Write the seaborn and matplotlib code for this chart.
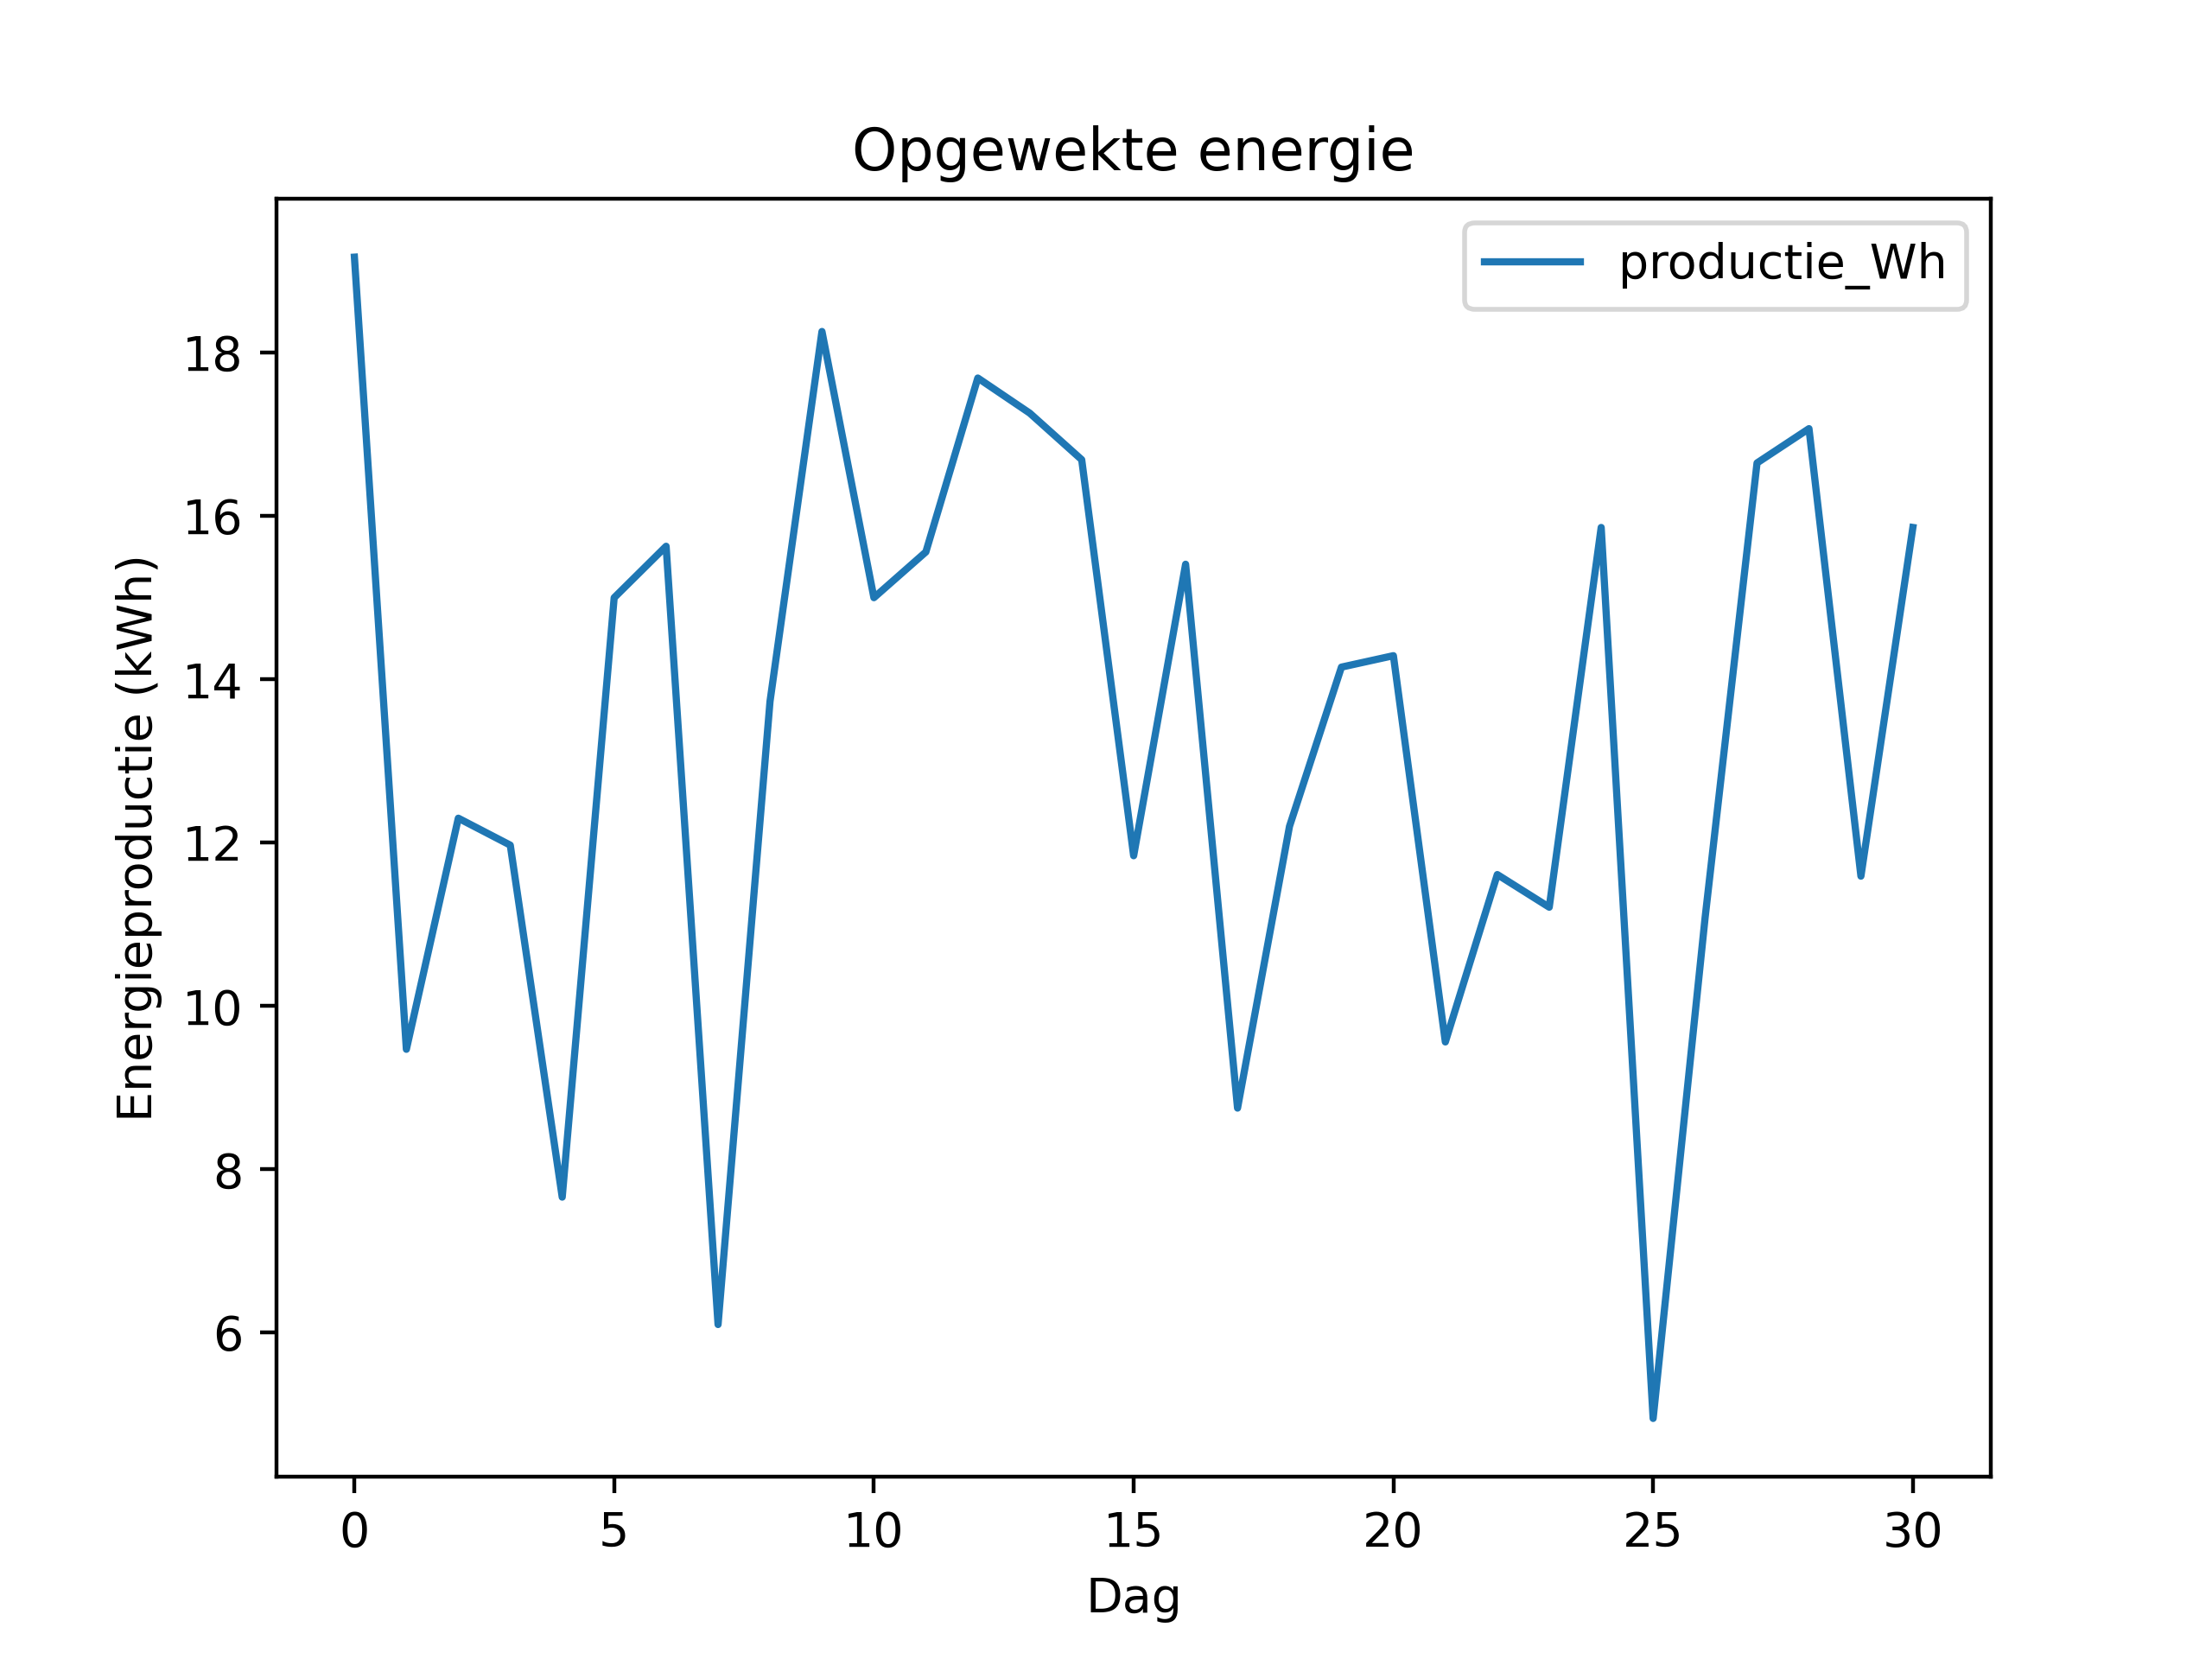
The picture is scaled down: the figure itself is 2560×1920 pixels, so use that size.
import pandas as pd
import matplotlib.pyplot as plt
import seaborn as sns

# Dagelijkse energieproductie (kWh)
dagen = list(range(31))
productie = [19.17, 9.47, 12.30, 11.97, 7.66, 15.00, 15.63, 6.10, 13.73, 18.26,
             15.00, 15.56, 17.69, 17.26, 16.69, 11.84, 15.41, 8.75, 12.20, 14.15,
             14.29, 9.56, 11.61, 11.21, 15.86, 4.95, 11.08, 16.65, 17.07, 11.59,
             15.86]

df = pd.DataFrame({'Dag': dagen, 'productie_Wh': productie})

fig, ax = plt.subplots(figsize=(6.4, 4.8), dpi=400)
sns.lineplot(data=df, x='Dag', y='productie_Wh', ax=ax, color='#1f77b4',
             label='productie_Wh')
ax.set_title('Opgewekte energie')
ax.set_xlabel('Dag')
ax.set_ylabel('Energieproductie (kWh)')
ax.legend(loc='upper right')

plt.savefig('out.png', dpi=400)
